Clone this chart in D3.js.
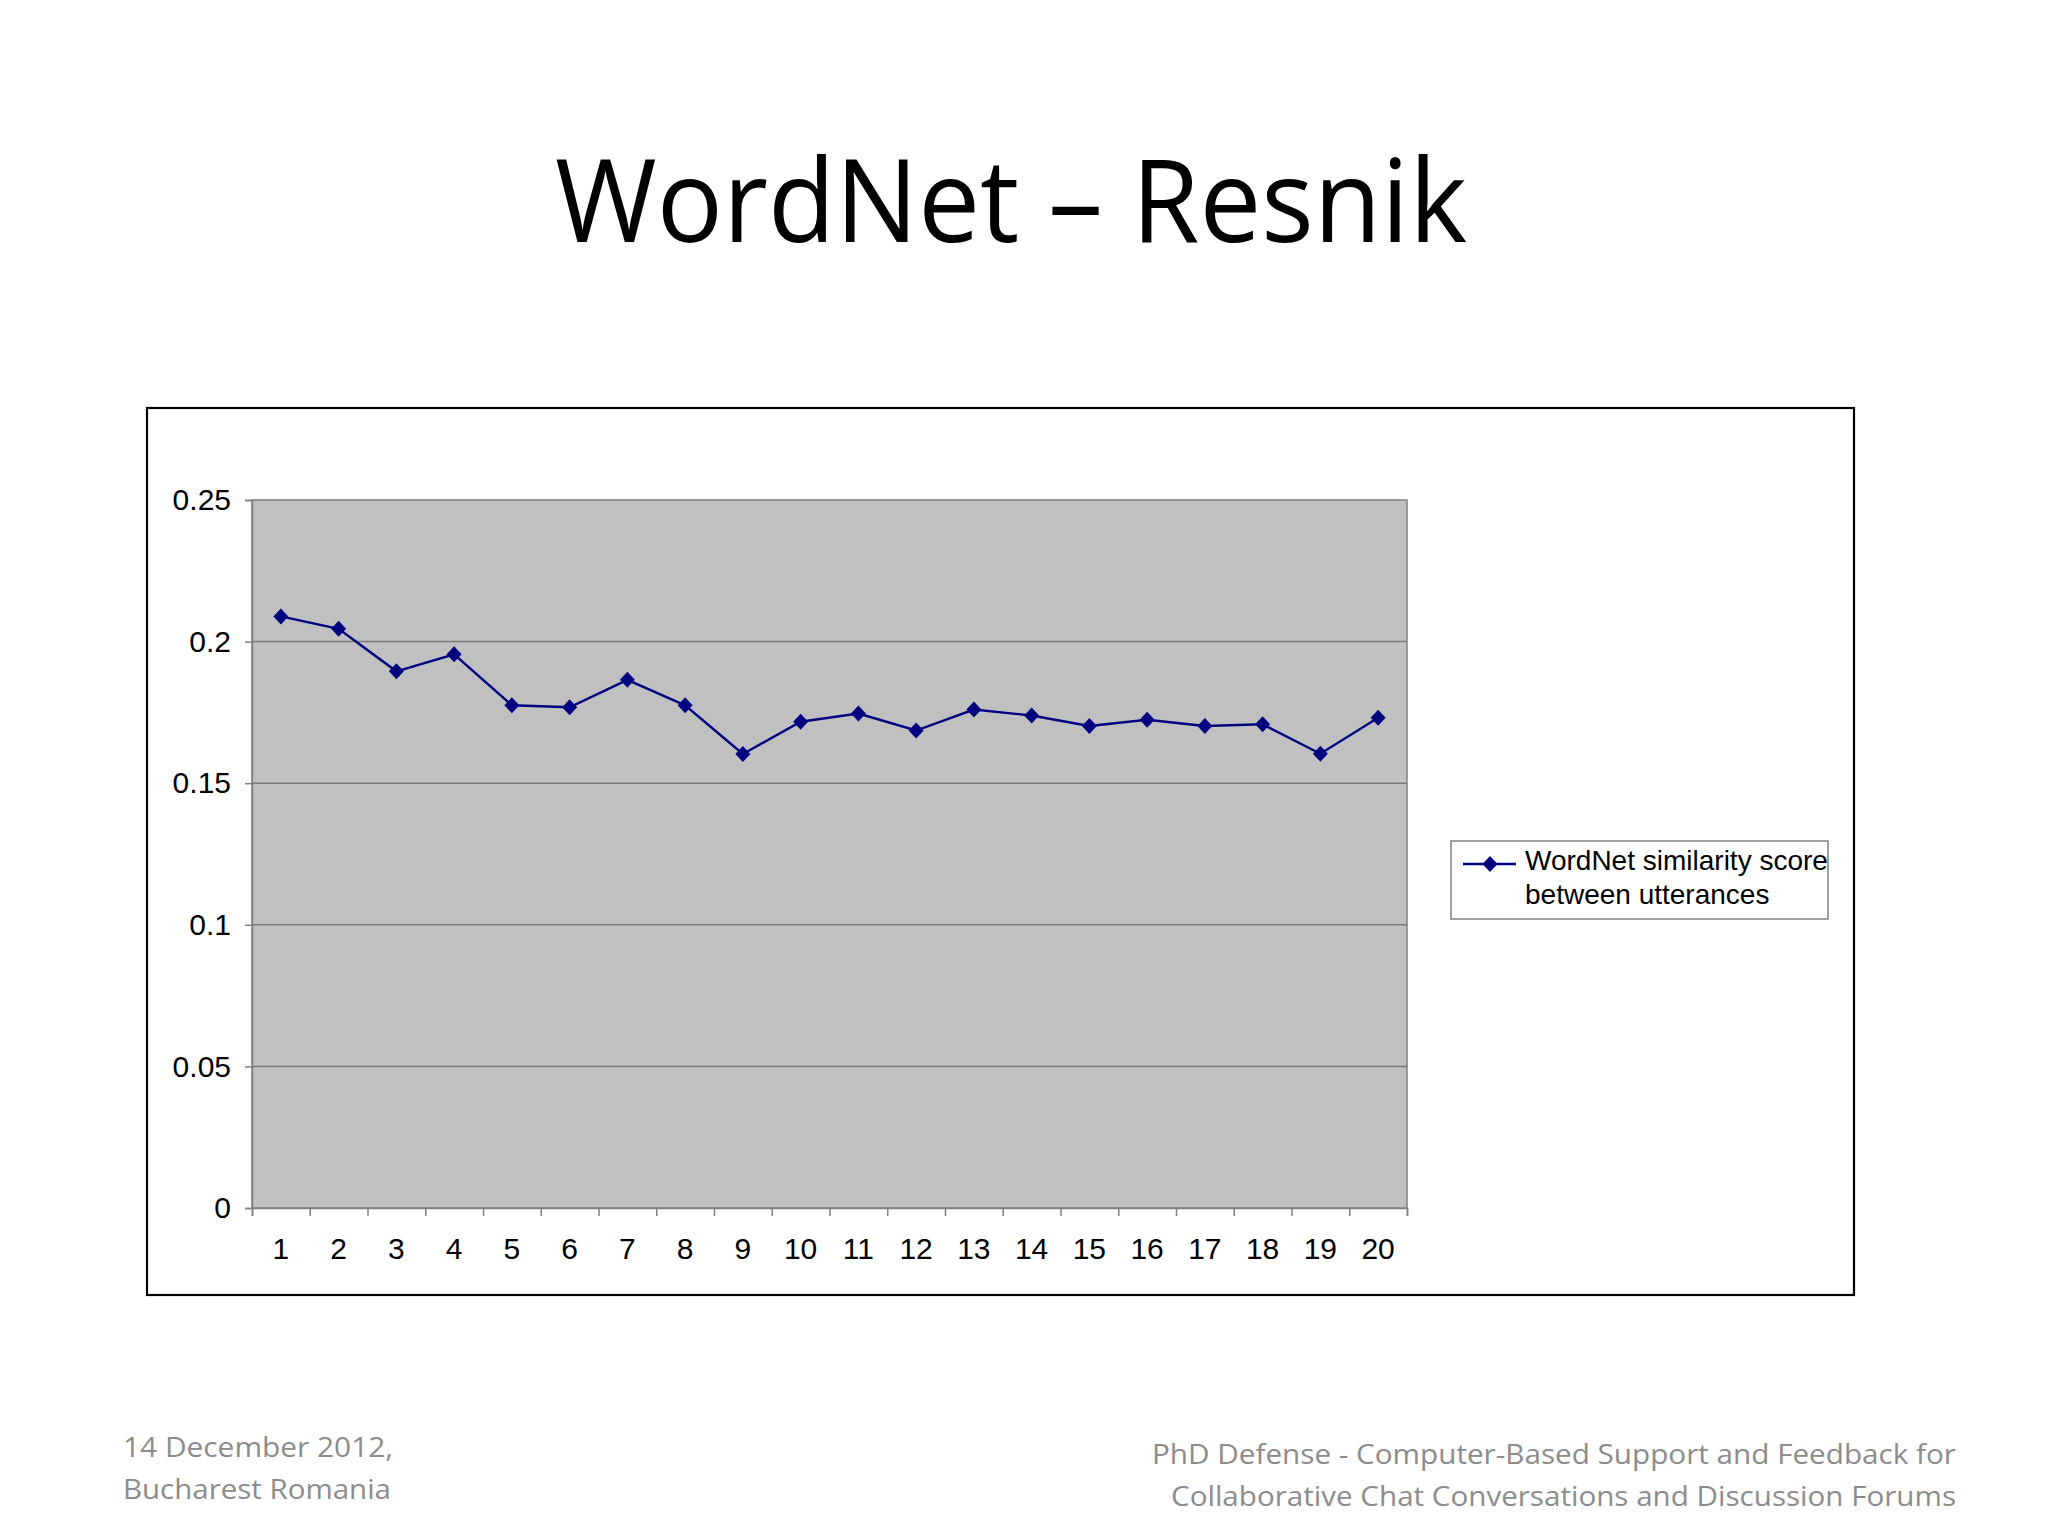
<!DOCTYPE html>
<html>
<head>
<meta charset="utf-8">
<script src="https://cdn.jsdelivr.net/npm/d3@7"></script>
<style>
  html, body { margin: 0; padding: 0; background: #ffffff; }
  svg { display: block; }
</style>
</head>
<body>
<svg id="chart" width="2048" height="1536"></svg>
<script>
// ---- data ----
const categories = ["1","2","3","4","5","6","7","8","9","10","11","12","13","14","15","16","17","18","19","20"];
const similarityScores = [0.2089, 0.2045, 0.1895, 0.1955, 0.1775, 0.1768, 0.1865, 0.1775, 0.1603, 0.1717,
                          0.1746, 0.1686, 0.1760, 0.1739, 0.1702, 0.1724, 0.1702, 0.1708, 0.1604, 0.1731];
const yTickValues = [0, 0.05, 0.1, 0.15, 0.2, 0.25];
const yTickLabels = ["0", "0.05", "0.1", "0.15", "0.2", "0.25"];
const seriesName = ["WordNet similarity score", "between utterances"];
const titleText = "WordNet \u2013 Resnik";
const footerLeft = ["14 December 2012,", "Bucharest Romania"];
const footerRight = ["PhD Defense - Computer-Based Support and Feedback for",
                     "Collaborative Chat Conversations and Discussion Forums"];

// ---- layout ----
const svg = d3.select("#chart");
const plot = { left: 252, right: 1407, top: 500, bottom: 1208 };
const frame = { x: 147, y: 408, w: 1707, h: 887 };

svg.append("rect").attr("width", 2048).attr("height", 1536).attr("fill", "#ffffff");

// title
svg.append("text")
  .attr("x", 1011).attr("y", 242)
  .attr("text-anchor", "middle")
  .attr("font-family", "'Open Sans', 'Noto Sans', sans-serif")
  .attr("font-size", 116)
  .attr("textLength", 912).attr("lengthAdjust", "spacingAndGlyphs")
  .attr("fill", "#000000")
  .text(titleText);

// chart frame
svg.append("rect")
  .attr("x", frame.x).attr("y", frame.y).attr("width", frame.w).attr("height", frame.h)
  .attr("fill", "#ffffff").attr("stroke", "#000000").attr("stroke-width", 2.2);

// scales
const x = d3.scaleBand().domain(categories).range([plot.left, plot.right]).padding(0);
const xEdge = d3.scaleLinear().domain([0, categories.length]).range([plot.left, plot.right]);
const y = d3.scaleLinear().domain([0, 0.25]).range([plot.bottom, plot.top]);

// plot area
svg.append("rect")
  .attr("x", plot.left).attr("y", plot.top)
  .attr("width", plot.right - plot.left).attr("height", plot.bottom - plot.top)
  .attr("fill", "#c0c0c0").attr("stroke", "#808080").attr("stroke-width", 1.5);

// gridlines
svg.append("g").selectAll("line")
  .data(yTickValues.filter(v => v > 0 && v < 0.25))
  .join("line")
  .attr("x1", plot.left).attr("x2", plot.right)
  .attr("y1", d => y(d)).attr("y2", d => y(d))
  .attr("stroke", "#7a7a7a").attr("stroke-width", 1.5);

const fontAxis = "'Liberation Sans', Arial, sans-serif";

// y axis
const yAxis = svg.append("g")
  .attr("transform", `translate(${plot.left},0)`)
  .call(d3.axisLeft(y).tickValues(yTickValues)
        .tickFormat((d, i) => yTickLabels[i]).tickSize(7).tickPadding(14));
yAxis.selectAll("path.domain").attr("stroke", "#808080").attr("stroke-width", 1.5);
yAxis.selectAll(".tick line").attr("stroke", "#808080").attr("stroke-width", 1.5);
yAxis.selectAll("text").attr("font-family", fontAxis).attr("font-size", 30).attr("fill", "#000");

// x axis ticks at category boundaries
const xTicks = svg.append("g")
  .attr("transform", `translate(0,${plot.bottom})`)
  .call(d3.axisBottom(xEdge).tickValues(d3.range(0, categories.length + 1)).tickFormat("").tickSize(8));
xTicks.selectAll("path.domain").attr("stroke", "#808080").attr("stroke-width", 1.5);
xTicks.selectAll(".tick line").attr("stroke", "#808080").attr("stroke-width", 1.5);

// x labels
const xLabels = svg.append("g")
  .attr("transform", `translate(0,${plot.bottom})`)
  .call(d3.axisBottom(x).tickSize(0).tickPadding(30));
xLabels.select("path.domain").remove();
xLabels.selectAll("text").attr("font-family", fontAxis).attr("font-size", 30).attr("fill", "#000");

// series line
const line = d3.line()
  .x((d, i) => x(categories[i]) + x.bandwidth() / 2)
  .y(d => y(d));
svg.append("path")
  .datum(similarityScores)
  .attr("d", line)
  .attr("fill", "none").attr("stroke", "#000080").attr("stroke-width", 2.4);

const diamond = "M0,-8L7.5,0L0,8L-7.5,0Z";
svg.append("g").selectAll("path")
  .data(similarityScores)
  .join("path")
  .attr("d", diamond)
  .attr("transform", (d, i) => `translate(${x(categories[i]) + x.bandwidth() / 2},${y(d)})`)
  .attr("fill", "#000080");

// legend
const lg = svg.append("g");
lg.append("rect")
  .attr("x", 1451).attr("y", 841).attr("width", 377).attr("height", 78)
  .attr("fill", "#ffffff").attr("stroke", "#808080").attr("stroke-width", 1.5);
lg.append("line")
  .attr("x1", 1463).attr("x2", 1516).attr("y1", 864).attr("y2", 864)
  .attr("stroke", "#000080").attr("stroke-width", 2.4);
lg.append("path").attr("d", diamond).attr("transform", "translate(1490,864)").attr("fill", "#000080");
lg.selectAll("text.leg")
  .data(seriesName)
  .join("text")
  .attr("class", "leg")
  .attr("x", 1525).attr("y", (d, i) => 870 + i * 34)
  .attr("font-family", fontAxis).attr("font-size", 28).attr("fill", "#000")
  .text(d => d);

// footers
const fontFooter = "'Open Sans', 'Noto Sans', sans-serif";
svg.append("g").selectAll("text")
  .data(footerLeft)
  .join("text")
  .attr("x", 123).attr("y", (d, i) => 1457 + i * 42)
  .attr("font-family", fontFooter).attr("font-size", 27).attr("fill", "#8c8c8c")
  .attr("textLength", (d, i) => [270, 268][i]).attr("lengthAdjust", "spacingAndGlyphs")
  .text(d => d);
svg.append("g").selectAll("text")
  .data(footerRight)
  .join("text")
  .attr("x", 1956).attr("y", (d, i) => 1464 + i * 42)
  .attr("text-anchor", "end")
  .attr("font-family", fontFooter).attr("font-size", 27).attr("fill", "#8c8c8c")
  .attr("textLength", (d, i) => [804, 785][i]).attr("lengthAdjust", "spacingAndGlyphs")
  .text(d => d);
</script>
</body>
</html>
